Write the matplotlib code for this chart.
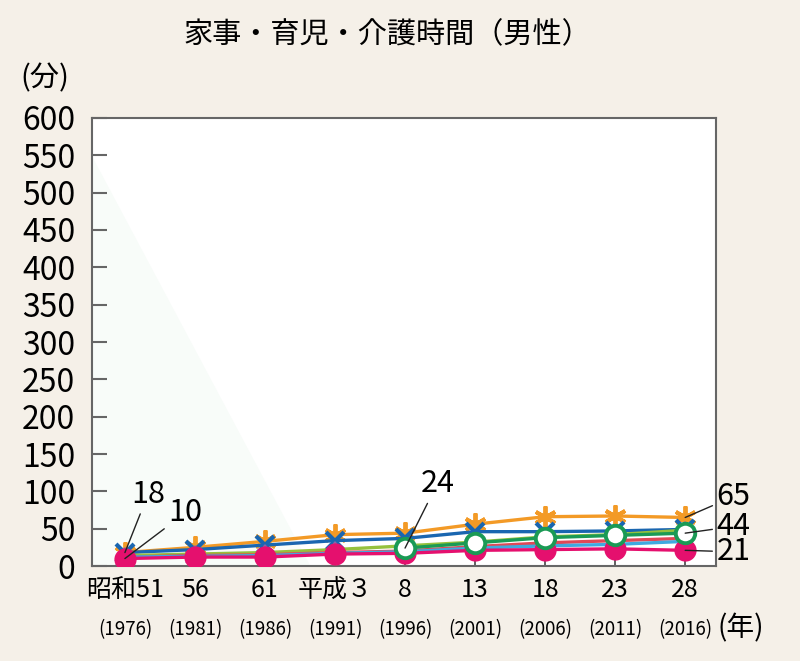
import matplotlib
matplotlib.use("Agg")
import matplotlib.pyplot as plt
import numpy as np

plt.rcParams['font.family'] = ['Noto Sans CJK JP', 'DejaVu Sans']

era_labels = ["昭和51", "56", "61", "平成３", "8", "13", "18", "23", "28"]
year_labels = ["(1976)", "(1981)", "(1986)", "(1991)", "(1996)", "(2001)", "(2006)", "(2011)", "(2016)"]
yticks = [0, 50, 100, 150, 200, 250, 300, 350, 400, 450, 500, 550, 600]

s_orange = [18, 25, 33, 42, 44, 56, 66, 67, 65]
s_blue = [18, 22, 28, 34, 37, 46, 46, 47, 49]
s_lgreen = [14, 16, 18, 22, 27, 32, 39, 42, 48]
s_red = [12, 14, 15, 18, 20, 26, 31, 34, 37]
s_lblue = [12, 13, 14, 17, 19, 24, 27, 29, 33]
s_pink = [10, 12, 12, 16, 17, 21, 22, 23, 21]
s_dgreen = [np.nan, np.nan, np.nan, np.nan, 24, 31, 38, 41, 44]

labels_pts = [  # (index, value, text x, text y)
    (0, 18, 0.33, 96),
    (0, 10, 0.86, 71),
    (4, 24, 4.46, 110),
    (8, 65, 8.69, 93),
    (8, 44, 8.69, 53),
    (8, 21, 8.69, 19),
]

fig = plt.figure(figsize=(8, 6.61), dpi=100)
fig.patch.set_facecolor('#f5f0e8')
ax = fig.add_axes([0.115, 0.1437, 0.78, 0.6778])
ax.set_facecolor('white')

# faint decorative background triangle
ax.add_patch(plt.Polygon([(0, 0.915), (0.35, 0), (0, 0)], closed=True,
                         transform=ax.transAxes, facecolor='#f8fcf9',
                         edgecolor='none', zorder=0))

x = np.arange(len(era_labels))
lw = 2.4
ax.plot(x, s_orange, color='#f39a26', lw=lw, marker=(6, 2, 0), ms=16, mew=2.8, zorder=3)
ax.plot(x, s_blue, color='#1a66b0', lw=lw, marker='x', ms=13, mew=3, zorder=4)
ax.plot(x, s_lgreen, color='#95c13d', lw=lw, marker='^', ms=12, mfc='#95c13d',
        mec='#8a63a8', mew=1.5, zorder=5)
ax.plot(x, s_red, color='#e04856', lw=lw, marker='^', ms=12, mfc='#e04856', mec='#e04856', zorder=5)
ax.plot(x, s_lblue, color='#3fa9e0', lw=lw, marker='s', ms=8, mfc='#3fa9e0', mec='#3fa9e0', zorder=6)
ax.plot(x, s_pink, color='#e5106e', lw=lw, marker='o', ms=15, mfc='#e5106e', mec='#e5106e', zorder=7)
ax.plot(x, s_dgreen, color='#1a9a55', lw=lw, marker='o', ms=14, mfc='white', mec='#1a9a55',
        mew=2.8, zorder=8)

for i, v, tx, ty in labels_pts:
    ax.annotate(str(v), xy=(x[i], v), xytext=(tx, ty), textcoords='data',
                fontsize=22, ha='center', va='center', zorder=10,
                arrowprops=dict(arrowstyle='-', color='#222222', lw=1.0,
                                shrinkA=1, shrinkB=0))

ax.set_xlim(-0.47, 8.44)
ax.set_ylim(0, 600)
ax.set_yticks(yticks)
ax.set_yticklabels([str(t) for t in yticks], fontsize=23)
ax.set_xticks(x)
ax.set_xticklabels(era_labels, fontsize=18)
ax.tick_params(axis='y', direction='in', length=11, width=1.5, color='#666666', pad=12)
ax.tick_params(axis='x', direction='in', length=8, width=1.2, color='#444444', pad=8)
for sp in ax.spines.values():
    sp.set_color('#666666')
    sp.set_linewidth(1.5)
for xi, yl in zip(x, year_labels):
    ax.text(xi, -0.143, yl, transform=ax.get_xaxis_transform(), fontsize=13.5,
            ha='center', va='center')
ax.text(8.8, -0.139, "(年)", transform=ax.get_xaxis_transform(), fontsize=20,
        ha='center', va='center')

fig.text(0.484, 0.947, "家事・育児・介護時間（男性）", fontsize=21, ha='center', va='center')
fig.text(0.056, 0.882, "(分)", fontsize=21, ha='center', va='center')

fig.savefig('out.png', dpi=100, facecolor=fig.get_facecolor())
